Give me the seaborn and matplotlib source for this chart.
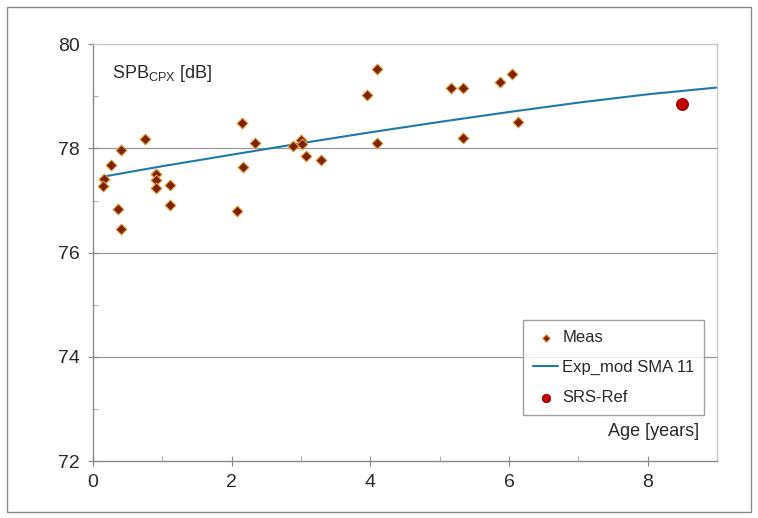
import matplotlib
matplotlib.use("Agg")
import matplotlib.pyplot as plt
from matplotlib.patches import Rectangle
from matplotlib.ticker import MultipleLocator
import seaborn as sns
import pandas as pd

# Measured points
meas_age = [0.16, 0.15, 0.26, 0.40, 0.36, 0.40, 0.75, 0.91, 0.91, 0.91, 1.11, 1.11,
            2.08, 2.15, 2.16, 2.33, 2.89, 3.00, 3.01, 3.07, 3.29,
            3.95, 4.10, 4.10, 5.16, 5.33, 5.33, 5.87, 6.04, 6.13]
meas_spb = [77.41, 77.27, 77.69, 77.98, 76.83, 76.46, 78.18, 77.51, 77.40, 77.25, 77.29, 76.92,
            76.80, 78.48, 77.65, 78.10, 78.05, 78.16, 78.09, 77.86, 77.77,
            79.03, 79.52, 78.10, 79.17, 79.17, 78.21, 79.27, 79.43, 78.50]

# Exponential model curve
model_age = [0.15, 1, 2, 3, 4, 5, 6, 7, 8, 9]
model_spb = [77.46, 77.66, 77.88, 78.10, 78.31, 78.51, 78.70, 78.88, 79.04, 79.17]

# Reference point
ref_age = [8.5]
ref_spb = [78.85]

sns.set_theme(style="white")
plt.rcParams['font.family'] = ['Liberation Sans Narrow', 'Liberation Sans', 'DejaVu Sans']

fig = plt.figure(figsize=(7.58, 5.18), dpi=100)
ax = fig.add_axes([93/758, 1-461/518, (717-93)/758, (461-44.3)/518])

# outer chart border
fig.patches.append(Rectangle((7/758, 6/518), (751-7)/758, (511-6)/518, transform=fig.transFigure,
                             fill=False, edgecolor="#8a8a8a", linewidth=1.0))

for yv in [74, 76, 78]:
    ax.axhline(yv, color="#9a9a9a", linewidth=0.9, zorder=0)

df_meas = pd.DataFrame({"age": meas_age, "spb": meas_spb})
df_model = pd.DataFrame({"age": model_age, "spb": model_spb})
df_ref = pd.DataFrame({"age": ref_age, "spb": ref_spb})

sns.scatterplot(data=df_meas, x="age", y="spb", ax=ax, marker="D", s=30,
                color="#7a2306", edgecolor="#e39a3a", linewidth=0.8, label="Meas", zorder=3)
sns.lineplot(data=df_model, x="age", y="spb", ax=ax, color="#1f78a8", linewidth=1.5,
             label="Exp_mod SMA 11", zorder=2)
sns.scatterplot(data=df_ref, x="age", y="spb", ax=ax, marker="o", s=75,
                color="#c00000", edgecolor="#8a0000", linewidth=0.6, label="SRS-Ref", zorder=4)

ax.set_xlim(0, 9)
ax.set_ylim(72, 80)
ax.xaxis.set_major_locator(MultipleLocator(2))
ax.xaxis.set_minor_locator(MultipleLocator(1))
ax.yaxis.set_major_locator(MultipleLocator(2))
ax.yaxis.set_minor_locator(MultipleLocator(1))
ax.tick_params(axis="both", which="major", direction="inout", length=7, width=0.8,
               color="#8a8a8a", labelsize=14, labelcolor="#2a2a2a", pad=6,
               bottom=True, left=True)
ax.tick_params(axis="both", which="minor", direction="in", length=3.5, width=0.8,
               color="#b0b0b0", bottom=True, left=True)
ax.set_xlabel("")
ax.set_ylabel("")
for side in ["left", "bottom"]:
    ax.spines[side].set_color("#8a8a8a")
    ax.spines[side].set_linewidth(1.0)
for side in ["top", "right"]:
    ax.spines[side].set_color("#c8c8c8")
    ax.spines[side].set_linewidth(1.0)

ax.text(0.27, 79.43, r"SPB$_{\mathregular{CPX}}$ [dB]", fontsize=13, color="#2a2a2a",
        ha="left", va="center")
ax.text(8.74, 72.56, "Age [years]", fontsize=13, color="#2a2a2a", ha="right", va="center")

leg = ax.legend(loc="upper left", bbox_to_anchor=((523-93)/624, 1-(320-44.3)/416.7),
                frameon=True, fancybox=False, fontsize=12, handlelength=1.5,
                handletextpad=0.25, borderpad=0.6, labelspacing=0.9, borderaxespad=0,
                markerscale=0.7)
leg.get_frame().set_edgecolor("#8a8a8a")
leg.get_frame().set_linewidth(1.0)
for t in leg.get_texts():
    t.set_color("#2a2a2a")

fig.savefig("out.png", dpi=100)
